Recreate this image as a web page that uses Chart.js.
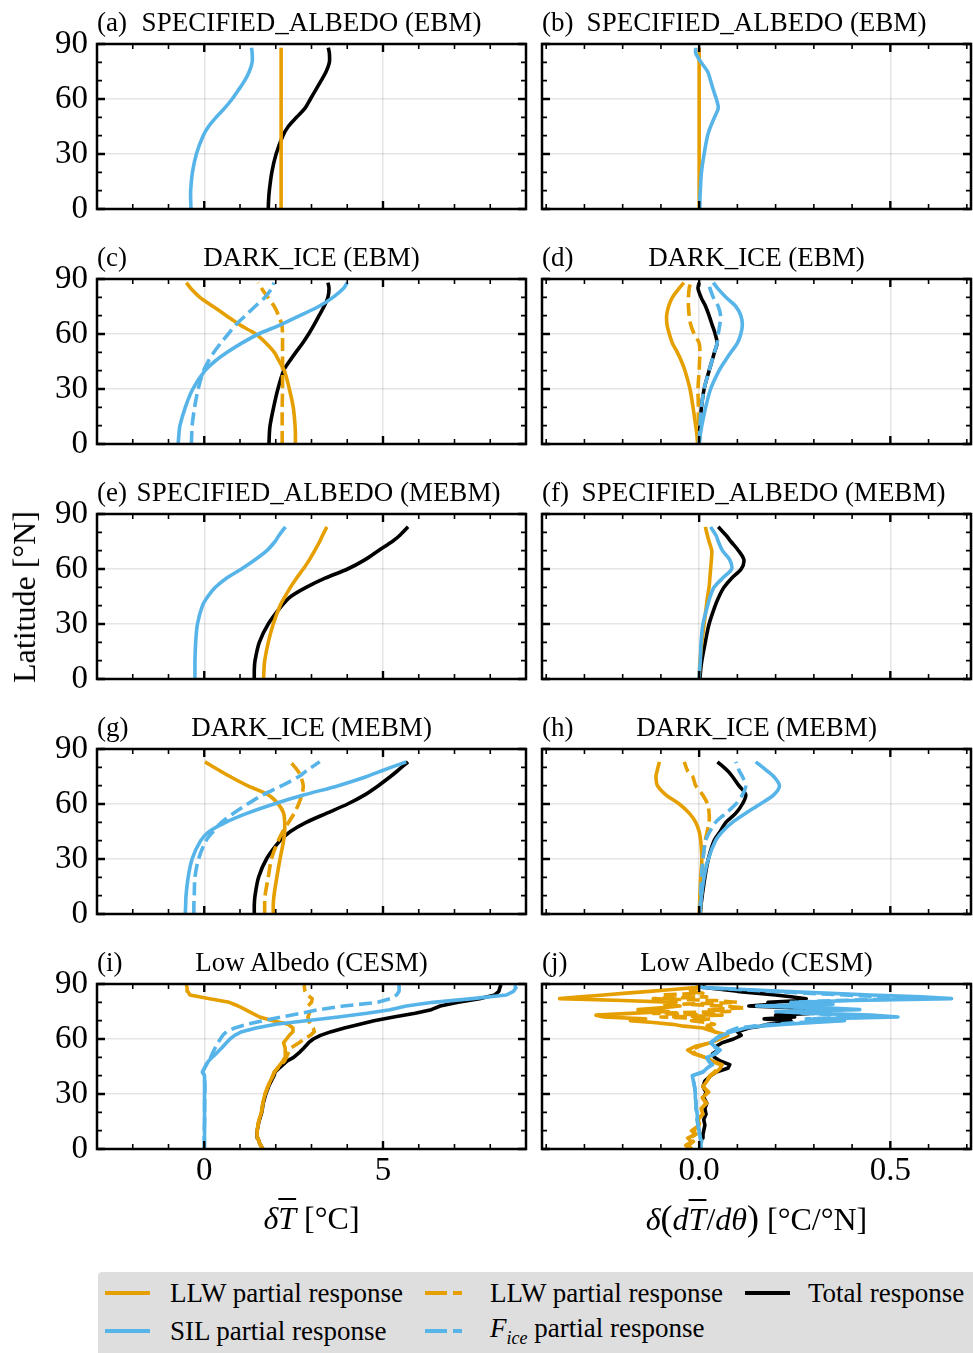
<!DOCTYPE html>
<html>
<head>
<meta charset="utf-8">
<script src="https://cdn.jsdelivr.net/npm/chart.js@4.4.0/dist/chart.umd.min.js"></script>
<style>
  body { margin: 0; background: #fff; }
  #page { position: relative; width: 973px; height: 1353px; overflow: hidden;
          font-family: 'Liberation Serif', 'Times New Roman', serif; color: #000; }
  #page canvas { position: absolute; }
  .txt { position: absolute; white-space: nowrap; line-height: 1; }
  .ol { text-decoration: overline; text-decoration-thickness: 2px; }
  #legend { position: absolute; left: 98px; top: 1272px; width: 890px; height: 95px;
            background: #dedede; border-radius: 4px; }
</style>
</head>
<body>
<div id="page"><div id="legend"></div></div>
<script>
// ==========
// Chart data
// ==========
const LAT_EBM = [0, 5, 10, 20, 30, 40, 45, 50, 55, 60, 65, 70, 75, 80, 85, 88];
const LAT_MEBM = [0, 5, 10, 20, 30, 40, 45, 50, 55, 60, 65, 70, 75, 78, 83];
const LAT_CESM = [0, 3, 6, 10, 15, 20, 25, 30, 35, 40, 42, 45, 48, 50, 53, 55, 58, 60, 62, 64, 66, 68, 70, 72, 74, 76, 78, 80, 82, 84, 86, 88, 89.5];
const LAT_CESM_GRAD = [0, 2, 4, 6, 8, 10, 13, 16, 19, 22, 25, 28, 31, 34, 37, 40, 42, 44, 46, 48, 50, 52, 54, 56, 58, 60, 62, 64, 66,
  67, 68, 69, 70, 71, 72, 73, 74, 75, 76, 77, 78, 79, 80, 81, 82, 83, 84, 85, 86, 87, 88, 89];

// (a) SPECIFIED_ALBEDO (EBM), dT
const A_TOTAL = [1.79, 1.80, 1.82, 1.89, 2.01, 2.20, 2.35, 2.58, 2.82, 2.97, 3.12, 3.27, 3.41, 3.50, 3.50, 3.47];
const A_LLW = [2.15, 2.15, 2.15, 2.15, 2.15, 2.15, 2.15, 2.15, 2.15, 2.15, 2.15, 2.15, 2.15, 2.15, 2.15, 2.15];
const A_SIL = [-0.37, -0.38, -0.38, -0.33, -0.22, -0.03, 0.12, 0.33, 0.57, 0.78, 0.96, 1.13, 1.26, 1.34, 1.34, 1.32];

// (b) SPECIFIED_ALBEDO (EBM), gradient
const B_LLW = [0, 0, 0, 0, 0, 0, 0, 0, 0, 0, 0, 0, 0, 0, 0, 0];
const B_SIL = [0.002, 0.002, 0.003, 0.006, 0.013, 0.022, 0.030, 0.040, 0.050, 0.045, 0.037, 0.030, 0.022, 0.005, -0.009, -0.009];

// (c) DARK_ICE (EBM), dT
const C_TOTAL = [1.81, 1.82, 1.84, 1.94, 2.06, 2.22, 2.38, 2.56, 2.75, 2.92, 3.07, 3.21, 3.35, 3.46, 3.49, 3.46];
const C_LLW = [2.55, 2.55, 2.54, 2.49, 2.38, 2.24, 2.10, 1.96, 1.73, 1.44, 0.99, 0.62, 0.25, -0.12, -0.38, -0.50];
const C_SIL = [-0.73, -0.71, -0.68, -0.53, -0.32, 0.02, 0.29, 0.64, 1.05, 1.52, 2.13, 2.67, 3.20, 3.60, 3.90, 4.00];
const C_LLW_D = [2.18, 2.18, 2.18, 2.18, 2.19, 2.19, 2.19, 2.19, 2.19, 2.19, 2.17, 2.08, 1.96, 1.78, 1.60, 1.50];
const C_FICE = [-0.36, -0.35, -0.34, -0.27, -0.17, -0.02, 0.11, 0.27, 0.46, 0.67, 0.88, 1.15, 1.42, 1.70, 1.89, 1.95];

// (d) DARK_ICE (EBM), gradient
const D_TOTAL = [0.000, 0.001, 0.002, 0.006, 0.013, 0.026, 0.033, 0.040, 0.047, 0.042, 0.034, 0.026, 0.017, 0.005, -0.003, 0.000];
const D_LLW = [-0.004, -0.006, -0.009, -0.016, -0.024, -0.037, -0.046, -0.057, -0.070, -0.078, -0.084, -0.085, -0.080, -0.070, -0.052, -0.040];
const D_SIL = [0.000, 0.003, 0.007, 0.017, 0.030, 0.052, 0.067, 0.083, 0.100, 0.109, 0.113, 0.109, 0.096, 0.070, 0.048, 0.037];
const D_LLW_D = [-0.002, -0.002, -0.002, -0.002, -0.003, 0.000, 0.001, 0.002, 0.000, -0.013, -0.022, -0.026, -0.028, -0.028, -0.026, -0.022];
const D_FICE = [0.000, 0.001, 0.002, 0.006, 0.013, 0.026, 0.033, 0.040, 0.047, 0.050, 0.054, 0.056, 0.050, 0.037, 0.028, 0.024];

// (e) SPECIFIED_ALBEDO (MEBM), dT
const E_TOTAL = [1.40, 1.40, 1.42, 1.54, 1.79, 2.17, 2.42, 2.85, 3.38, 4.01, 4.49, 4.87, 5.26, 5.45, 5.70];
const E_LLW = [1.66, 1.67, 1.69, 1.79, 1.93, 2.12, 2.26, 2.41, 2.58, 2.77, 2.94, 3.09, 3.23, 3.30, 3.43];
const E_SIL = [-0.26, -0.26, -0.26, -0.24, -0.19, -0.05, 0.10, 0.31, 0.62, 1.04, 1.42, 1.75, 1.98, 2.08, 2.27];

// (f) SPECIFIED_ALBEDO (MEBM), gradient
const F_TOTAL = [0.002, 0.004, 0.007, 0.016, 0.026, 0.042, 0.052, 0.065, 0.085, 0.110, 0.117, 0.103, 0.083, 0.072, 0.050];
const F_LLW = [0.000, 0.001, 0.002, 0.007, 0.013, 0.019, 0.022, 0.026, 0.028, 0.030, 0.032, 0.033, 0.026, 0.022, 0.016];
const F_SIL = [0.000, 0.001, 0.003, 0.005, 0.010, 0.022, 0.029, 0.039, 0.061, 0.085, 0.080, 0.061, 0.050, 0.045, 0.030];

// (g) DARK_ICE (MEBM), dT
const G_TOTAL = [1.40, 1.40, 1.42, 1.52, 1.74, 2.12, 2.41, 2.85, 3.43, 4.01, 4.49, 4.87, 5.21, 5.40, 5.70];
const G_LLW = [1.93, 1.93, 1.95, 2.03, 2.12, 2.22, 2.25, 2.25, 2.22, 2.07, 1.79, 1.21, 0.72, 0.45, 0.02];
const G_SIL = [-0.53, -0.52, -0.51, -0.45, -0.34, -0.10, 0.14, 0.60, 1.21, 1.95, 2.80, 3.75, 4.55, 4.95, 5.65];
const G_LLW_D = [1.69, 1.69, 1.70, 1.79, 1.88, 2.07, 2.20, 2.36, 2.52, 2.64, 2.73, 2.77, 2.70, 2.62, 2.41];
const G_FICE = [-0.29, -0.29, -0.28, -0.26, -0.16, 0.05, 0.25, 0.48, 0.82, 1.21, 1.64, 2.17, 2.65, 2.85, 3.23];

// (h) DARK_ICE (MEBM), gradient
const H_TOTAL = [0.003, 0.005, 0.008, 0.015, 0.024, 0.039, 0.055, 0.070, 0.096, 0.113, 0.122, 0.104, 0.087, 0.075, 0.048];
const H_LLW = [0.000, 0.001, 0.002, 0.004, 0.007, 0.004, 0.000, -0.009, -0.026, -0.052, -0.087, -0.109, -0.113, -0.110, -0.104];
const H_SIL = [0.002, 0.004, 0.006, 0.013, 0.024, 0.043, 0.061, 0.087, 0.122, 0.160, 0.195, 0.210, 0.195, 0.178, 0.148];
const H_LLW_D = [0.003, 0.004, 0.006, 0.008, 0.010, 0.016, 0.021, 0.026, 0.026, 0.022, 0.009, -0.009, -0.017, -0.030, -0.039];
const H_FICE = [0.002, 0.003, 0.004, 0.006, 0.010, 0.017, 0.028, 0.043, 0.070, 0.096, 0.113, 0.122, 0.113, 0.105, 0.096];

// (i) Low Albedo (CESM), dT
const I_TOTAL = [1.64, 1.55, 1.50, 1.48, 1.53, 1.61, 1.65, 1.72, 1.82, 1.95, 1.98, 2.15, 2.32, 2.50, 2.68, 2.78, 2.92,
  3.05, 3.25, 3.55, 3.92, 4.35, 4.75, 5.30, 5.90, 6.35, 6.60, 7.10, 7.70, 8.12, 8.24, 8.27, 8.30];
const I_LLW = [1.64, 1.55, 1.50, 1.48, 1.52, 1.60, 1.64, 1.70, 1.80, 1.92, 1.96, 2.08, 2.20, 2.26, 2.27, 2.26, 2.22,
  2.30, 2.38, 2.48, 2.48, 2.35, 1.92, 1.55, 1.35, 1.15, 0.95, 0.70, 0.15, -0.40, -0.46, -0.48, -0.50];
const I_SIL = [0.00, 0.00, 0.00, 0.00, 0.01, 0.01, 0.01, 0.02, 0.02, 0.00, -0.05, 0.03, 0.12, 0.22, 0.38, 0.48, 0.62,
  0.72, 0.85, 1.05, 1.45, 2.00, 2.85, 3.75, 4.55, 5.20, 5.65, 6.40, 7.50, 8.45, 8.65, 8.72, 8.70];
const I_LLW_D = [1.64, 1.55, 1.50, 1.48, 1.52, 1.60, 1.64, 1.70, 1.80, 1.92, 1.96, 2.10, 2.25, 2.30, 2.36, 2.41, 2.65,
  2.80, 2.97, 3.08, 3.05, 2.97, 2.92, 2.90, 2.94, 2.92, 2.90, 3.00, 3.02, 2.88, 2.82, 2.80, 2.80];
const I_FICE = [0.00, 0.00, 0.00, 0.00, 0.01, 0.01, 0.01, 0.02, 0.02, 0.00, -0.05, 0.03, 0.10, 0.18, 0.25, 0.30, 0.38,
  0.45, 0.52, 0.62, 0.85, 1.20, 1.65, 2.15, 2.70, 3.20, 3.90, 4.85, 5.20, 5.38, 5.45, 5.45, 5.45];

// (j) Low Albedo (CESM), gradient
const J_TOTAL = [0.000, 0.002, 0.005, 0.008, 0.010, 0.012, 0.015, 0.012, 0.018, 0.015, 0.020, 0.012, 0.018, 0.010, 0.015, 0.030,
  0.045, 0.075, 0.080, 0.055, 0.040, 0.035, 0.050, 0.045, 0.060, 0.090, 0.110, 0.100, 0.130,
  0.160, 0.180, 0.220, 0.240, 0.170, 0.250, 0.200, 0.290, 0.240, 0.300, 0.260, 0.130, 0.200, 0.180, 0.270, 0.280,
  0.240, 0.200, 0.150, 0.100, 0.060, 0.020, 0.000];
const J_LLW = [-0.025, -0.035, -0.020, -0.030, -0.010, -0.020, 0.000, -0.005, 0.010, 0.005, 0.020, 0.008, 0.025, 0.010, 0.020, 0.030,
  0.045, 0.055, 0.060, 0.035, 0.015, -0.015, -0.030, -0.010, 0.030, 0.055, 0.075, 0.040, 0.010,
  -0.040, -0.070, -0.120, -0.180, -0.140, -0.250, -0.270, -0.180, -0.080, -0.160, -0.100, -0.050, -0.090, -0.060, -0.200, -0.365,
  -0.310, -0.250, -0.190, -0.130, -0.070, -0.010, 0.000];
const J_SIL = [0.005, 0.004, 0.006, 0.003, 0.002, 0.000, -0.003, -0.005, -0.005, -0.008, -0.008, -0.010, -0.010, -0.012, -0.015, -0.018,
  0.010, 0.020, 0.035, 0.025, 0.020, 0.045, 0.055, 0.040, 0.030, 0.045, 0.060, 0.085, 0.120,
  0.160, 0.220, 0.300, 0.380, 0.300, 0.520, 0.450, 0.300, 0.200, 0.420, 0.330, 0.150, 0.350, 0.250, 0.400, 0.660,
  0.580, 0.450, 0.330, 0.220, 0.120, 0.010, 0.000];
const J_LLW_D = [-0.020, -0.028, -0.015, -0.025, -0.008, -0.015, 0.002, -0.003, 0.010, 0.006, 0.018, 0.008, 0.022, 0.010, 0.018, 0.028,
  0.040, 0.050, 0.055, 0.032, 0.015, -0.010, -0.020, 0.000, 0.030, 0.050, 0.060, 0.040, 0.030,
  0.010, 0.040, 0.020, -0.020, 0.030, -0.100, 0.060, -0.120, 0.080, 0.020, 0.120, 0.060, -0.040, 0.100, 0.040, -0.120,
  0.020, -0.100, 0.010, -0.030, -0.010, 0.000, 0.000];
const J_FICE = [0.005, 0.004, 0.006, 0.003, 0.002, 0.000, -0.003, -0.005, -0.005, -0.008, -0.008, -0.010, -0.010, -0.012, -0.015, -0.018,
  0.010, 0.020, 0.032, 0.025, 0.020, 0.040, 0.050, 0.038, 0.030, 0.042, 0.055, 0.075, 0.100,
  0.140, 0.200, 0.260, 0.330, 0.280, 0.450, 0.400, 0.280, 0.220, 0.380, 0.300, 0.180, 0.320, 0.240, 0.360, 0.550,
  0.480, 0.380, 0.280, 0.190, 0.100, 0.010, 0.000];

// axis ticks
const Y_TICKS = [0, 30, 60, 90];
const Y_MINOR = [10, 20, 40, 50, 70, 80];
const X_TICKS_T = [0, 5];
const X_MINOR_T = [-2, -1, 1, 2, 3, 4, 6, 7, 8];
const X_TICKS_GRAD = [0, 0.5];
const X_MINOR_GRAD = [-0.4, -0.3, -0.2, -0.1, 0.1, 0.2, 0.3, 0.4, 0.6, 0.7];

// =====
// Setup
// =====
const FONT = "'Liberation Serif', 'Times New Roman', serif";
const ORANGE = '#E69F00';
const BLUE = '#56B4E9';
const DASH = [13, 5.6];

const PLOT_W = 429, PLOT_H = 165;
const COL_LEFT = [97, 542];
const ROW_TOP = [44, 279, 514, 749, 984];
const Y_AXIS_W = 97, PAD_T = 26, PAD_R = 4, X_AXIS_H = 60;

const X_RANGES = [
    { min: -3, max: 9, major: X_TICKS_T, minor: X_MINOR_T, fmt: v => String(v) },
    { min: -0.411, max: 0.711, major: X_TICKS_GRAD, minor: X_MINOR_GRAD, fmt: v => v.toFixed(1) }
];

const STYLES = {
    fice: { color: BLUE, dash: DASH },
    sil: { color: BLUE, dash: [] },
    llwD: { color: ORANGE, dash: DASH },
    llw: { color: ORANGE, dash: [] },
    total: { color: '#000', dash: [] }
};

// first entry is drawn on top; shift nudges the centred title
const PANELS = [
    { label: '(a)', title: 'SPECIFIED_ALBEDO (EBM)', shift: 0, lat: LAT_EBM, tension: 0.3,
      series: { sil: A_SIL, llw: A_LLW, total: A_TOTAL } },
    { label: '(b)', title: 'SPECIFIED_ALBEDO (EBM)', shift: 0, lat: LAT_EBM, tension: 0.3,
      series: { sil: B_SIL, llw: B_LLW } },
    { label: '(c)', title: 'DARK_ICE (EBM)', shift: 0, lat: LAT_EBM, tension: 0.3,
      series: { fice: C_FICE, sil: C_SIL, llwD: C_LLW_D, llw: C_LLW, total: C_TOTAL } },
    { label: '(d)', title: 'DARK_ICE (EBM)', shift: 0, lat: LAT_EBM, tension: 0.3,
      series: { fice: D_FICE, sil: D_SIL, llwD: D_LLW_D, llw: D_LLW, total: D_TOTAL } },
    { label: '(e)', title: 'SPECIFIED_ALBEDO (MEBM)', shift: 7, lat: LAT_MEBM, tension: 0.3,
      series: { sil: E_SIL, llw: E_LLW, total: E_TOTAL } },
    { label: '(f)', title: 'SPECIFIED_ALBEDO (MEBM)', shift: 7, lat: LAT_MEBM, tension: 0.3,
      series: { sil: F_SIL, llw: F_LLW, total: F_TOTAL } },
    { label: '(g)', title: 'DARK_ICE (MEBM)', shift: 0, lat: LAT_MEBM, tension: 0.3,
      series: { fice: G_FICE, sil: G_SIL, llwD: G_LLW_D, llw: G_LLW, total: G_TOTAL } },
    { label: '(h)', title: 'DARK_ICE (MEBM)', shift: 0, lat: LAT_MEBM, tension: 0.3,
      series: { fice: H_FICE, sil: H_SIL, llwD: H_LLW_D, llw: H_LLW, total: H_TOTAL } },
    { label: '(i)', title: 'Low Albedo (CESM)', shift: 0, lat: LAT_CESM, tension: 0,
      series: { fice: I_FICE, sil: I_SIL, llwD: I_LLW_D, llw: I_LLW, total: I_TOTAL } },
    { label: '(j)', title: 'Low Albedo (CESM)', shift: 0, lat: LAT_CESM_GRAD, tension: 0,
      series: { fice: J_FICE, sil: J_SIL, llwD: J_LLW_D, llw: J_LLW, total: J_TOTAL } }
];

const page = document.getElementById('page');

// ====================
// Frame + inward ticks
// ====================
const frameTicks = {
    id: 'frameTicks',
    afterDatasetsDraw(chart, args, opts) {
        const { ctx, chartArea: a, scales: { x, y } } = chart;
        ctx.save();
        ctx.strokeStyle = '#000';
        ctx.lineCap = 'butt';

        const tick = (list, len, width) => {
            ctx.lineWidth = width;
            ctx.beginPath();
            list.x.forEach(v => {
                const px = x.getPixelForValue(v);
                ctx.moveTo(px, a.bottom); ctx.lineTo(px, a.bottom - len);
                ctx.moveTo(px, a.top); ctx.lineTo(px, a.top + len);
            });
            list.y.forEach(v => {
                const py = y.getPixelForValue(v);
                ctx.moveTo(a.left, py); ctx.lineTo(a.left + len, py);
                ctx.moveTo(a.right, py); ctx.lineTo(a.right - len, py);
            });
            ctx.stroke();
        };
        tick({ x: opts.xMinor, y: Y_MINOR }, 5, 1.6);
        tick({ x: opts.xMajor, y: Y_TICKS }, 8, 2.4);

        ctx.lineWidth = 2.5;
        ctx.strokeRect(a.left, a.top, a.width, a.height);
        ctx.restore();
    }
};

function addText(html, x, y, size, align, rotate) {
    const el = document.createElement('div');
    el.className = 'txt';
    el.innerHTML = html;
    el.style.left = x + 'px';
    el.style.top = y + 'px';
    el.style.fontSize = size + 'px';
    let tf = align === 'center' ? 'translate(-50%,-50%)' : 'translate(0,-50%)';
    if (rotate) tf += ' rotate(' + rotate + 'deg)';
    el.style.transform = tf;
    page.appendChild(el);
}

function makePanel(p, idx) {
    const col = idx % 2, row = Math.floor(idx / 2);
    const isLeft = col === 0, isBottom = row === 4;
    const xr = X_RANGES[col];

    const w = Y_AXIS_W + PLOT_W + PAD_R, h = PAD_T + PLOT_H + X_AXIS_H;
    const canvas = document.createElement('canvas');
    canvas.width = w; canvas.height = h;
    canvas.style.left = (COL_LEFT[col] - Y_AXIS_W) + 'px';
    canvas.style.top = (ROW_TOP[row] - PAD_T) + 'px';
    canvas.style.width = w + 'px';
    canvas.style.height = h + 'px';
    page.appendChild(canvas);

    const datasets = Object.keys(p.series).map(key => ({
        data: p.series[key].map((v, i) => ({ x: v, y: p.lat[i] })),
        borderColor: STYLES[key].color,
        borderDash: STYLES[key].dash,
        borderWidth: 3.6,
        borderCapStyle: 'butt',
        borderJoinStyle: 'round',
        pointRadius: 0,
        tension: p.tension,
        fill: false
    }));

    const grid = { color: 'rgba(0,0,0,0.1)', lineWidth: 1.5, drawTicks: false };
    const tickFont = { family: FONT, size: 33, lineHeight: 1.2 };

    new Chart(canvas.getContext('2d'), {
        type: 'line',
        data: { datasets },
        options: {
            responsive: false,
            animation: false,
            devicePixelRatio: 1,
            events: [],
            layout: { padding: { top: PAD_T, right: PAD_R, left: 0, bottom: 0 }, autoPadding: false },
            plugins: {
                legend: { display: false },
                tooltip: { enabled: false },
                frameTicks: { xMajor: xr.major, xMinor: xr.minor }
            },
            scales: {
                x: {
                    type: 'linear', position: 'bottom', min: xr.min, max: xr.max,
                    afterBuildTicks: s => { s.ticks = xr.major.map(v => ({ value: v })); },
                    afterFit: s => { s.height = X_AXIS_H; s.paddingLeft = 0; s.paddingRight = 0; },
                    grid, border: { display: false },
                    ticks: { display: isBottom, color: '#000', font: tickFont, padding: 3,
                             maxRotation: 0, autoSkip: false, callback: v => xr.fmt(v) }
                },
                y: {
                    type: 'linear', min: 0, max: 90,
                    afterBuildTicks: s => { s.ticks = Y_TICKS.map(v => ({ value: v })); },
                    afterFit: s => { s.width = Y_AXIS_W; s.paddingTop = 0; s.paddingBottom = 0; },
                    grid, border: { display: false },
                    ticks: { display: isLeft, color: '#000', font: tickFont, padding: 9, autoSkip: false }
                }
            }
        },
        plugins: [frameTicks]
    });

    // panel titles
    const titleY = ROW_TOP[row] - 22;
    addText(p.label, COL_LEFT[col], titleY, 27, 'left');
    addText(p.title, COL_LEFT[col] + PLOT_W / 2 + p.shift, titleY, 27, 'center');
}

PANELS.forEach(makePanel);

// axis titles
addText('Latitude [°N]', 24, ROW_TOP[2] + PLOT_H / 2, 32, 'center', -90);
addText('<i>δ</i><i class="ol">T</i> [°C]', COL_LEFT[0] + PLOT_W / 2, 1218, 32, 'center');
addText('<i>δ</i><span style="font-size:36px">(</span><i>d</i><i class="ol">T</i>/<i>dθ</i><span style="font-size:36px">)</span> [°C/°N]',
    COL_LEFT[1] + PLOT_W / 2, 1218, 32, 'center');

// ======
// Legend
// ======
const LEGEND_ITEMS = [
    { key: 'llw', text: 'LLW partial response', x: 105, y: 1293 },
    { key: 'llwD', text: 'LLW partial response', x: 425, y: 1293 },
    { key: 'total', text: 'Total response', x: 745, y: 1293 },
    { key: 'sil', text: 'SIL partial response', x: 105, y: 1331 },
    { key: 'fice', text: '<i>F<sub style="font-size:18px">ice</sub></i> partial response', x: 425, y: 1331 }
];

LEGEND_ITEMS.forEach(item => {
    const st = STYLES[item.key];
    const svg = document.createElementNS('http://www.w3.org/2000/svg', 'svg');
    svg.setAttribute('width', '45');
    svg.setAttribute('height', '8');
    svg.style.position = 'absolute';
    svg.style.left = item.x + 'px';
    svg.style.top = (item.y - 4) + 'px';
    const line = document.createElementNS('http://www.w3.org/2000/svg', 'line');
    line.setAttribute('x1', '0'); line.setAttribute('x2', '45');
    line.setAttribute('y1', '4'); line.setAttribute('y2', '4');
    line.setAttribute('stroke', st.color);
    line.setAttribute('stroke-width', '4');
    if (st.dash.length) line.setAttribute('stroke-dasharray', '22 6 9 20');
    svg.appendChild(line);
    page.appendChild(svg);
    addText(item.text, item.x + (item.key === 'total' ? 63 : 65), item.y, 27, 'left');
});
</script>
</body>
</html>
